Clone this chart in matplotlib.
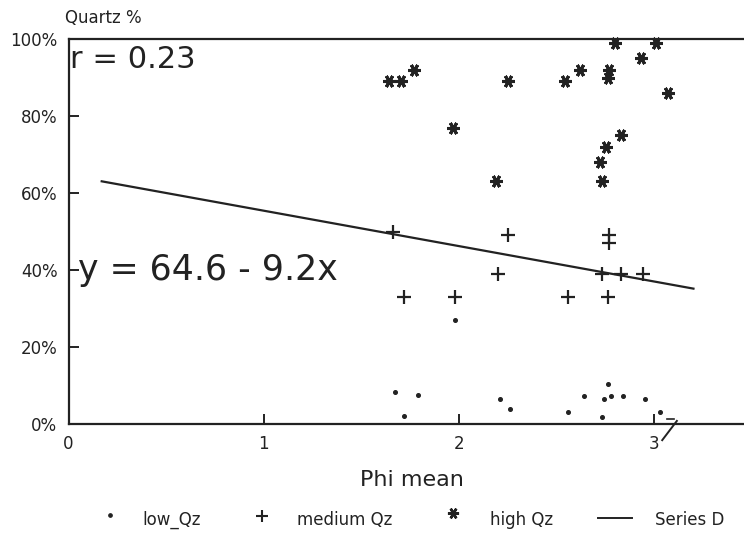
import matplotlib
matplotlib.use("Agg")
import matplotlib.pyplot as plt
import matplotlib.transforms as mtransforms
import numpy as np

# Quartz content against mean grain size (phi), grouped by quartz class
low_phi = [1.98, 1.67, 1.79, 1.72, 2.21, 2.26, 2.56, 2.64, 2.76, 2.74, 2.78, 2.84, 2.73, 2.95, 3.03]
low_qz = [27, 8.4, 7.5, 2.1, 6.5, 3.9, 3.0, 7.4, 10.4, 6.4, 7.4, 7.4, 1.9, 6.4, 3.0]

medium_phi = [1.66, 2.25, 2.77, 2.77, 2.20, 2.73, 2.83, 2.94, 1.72, 1.98, 2.56, 2.76]
medium_qz = [50, 49, 49, 47, 39, 39, 39, 39, 33, 33, 33, 33]

high_phi = [1.64, 1.70, 1.77, 1.97, 2.25, 2.19, 2.54, 2.62, 2.77, 2.76,
            2.80, 2.93, 3.01, 3.07, 2.83, 2.75, 2.72, 2.73]
high_qz = [89, 89, 92, 77, 89, 63, 89, 92, 92, 90,
           99, 95, 99, 86, 75, 72, 68, 63]

# Fitted regression (Series D): y = 64.6 - 9.2x
fit_intercept = 64.6
fit_slope = -9.2
fit_range = [0.17, 3.2]
r_value = 0.23

x_ticks = [0, 1, 2, 3]
y_ticks = [0, 20, 40, 60, 80, 100]
y_ticklabels = ["0%", "20%", "40%", "60%", "80%", "100%"]

ink = "#222222"
plt.rcParams["font.family"] = ["DejaVu Sans"]

W, H = 744, 534
fig = plt.figure(figsize=(W / 100, H / 100), dpi=100, facecolor="white")
ax = fig.add_axes([68.5 / W, 110 / H, (W - 68.5) / W, 385 / H])
ax.set_facecolor("white")

ax.set_xlim(0, (W - 68.5) / 195.3)
ax.set_ylim(0, 100)

for side in ["left", "top", "bottom"]:
    ax.spines[side].set_color(ink)
    ax.spines[side].set_linewidth(1.6)
ax.spines["right"].set_visible(False)

ax.set_xticks(x_ticks)
ax.set_xticklabels([str(t) for t in x_ticks])
ax.set_yticks(y_ticks)
ax.set_yticklabels(y_ticklabels)
ax.tick_params(axis="both", direction="in", length=7, width=1.4, colors=ink,
               labelsize=12, labelcolor=ink)
ax.tick_params(axis="x", pad=8)
ax.tick_params(axis="y", pad=8)

# scatter groups
ax.plot(low_phi, low_qz, linestyle="none", marker="o", markersize=2.6,
        color=ink, clip_on=False)
ax.plot(medium_phi, medium_qz, linestyle="none", marker="+", markersize=9.5,
        markeredgewidth=1.6, color=ink, clip_on=False)
ax.plot(high_phi, high_qz, linestyle="none", marker=(6, 2, 90), markersize=9,
        markeredgewidth=2.2, color=ink, clip_on=False)

# regression line
fx = np.array(fit_range)
ax.plot(fx, fit_intercept + fit_slope * fx, color=ink, linewidth=1.6)

# axis break mark on the x axis
brk = mtransforms.blended_transform_factory(ax.transData, ax.transAxes)
ax.plot([3.04, 3.115], [-0.042, 0.008], transform=brk, color=ink,
        linewidth=1.4, clip_on=False)
ax.plot([3.065, 3.10], [0.012, 0.012], transform=brk, color=ink,
        linewidth=1.2, clip_on=False)

# annotations
ax.text(0.002, 0.985, f"r = {r_value:.2f}", transform=ax.transAxes,
        fontsize=22, color=ink, ha="left", va="top")
ax.text(0.05, 40, f"y = {fit_intercept:.1f} - {abs(fit_slope):.1f}x",
        fontsize=25, color=ink, ha="left", va="center")

fig.text(65 / W, 1 - 18 / H, "Quartz %", fontsize=12, color=ink,
         ha="left", va="center")
fig.text(412 / W, 1 - 480 / H, "Phi mean", fontsize=16, color=ink,
         ha="center", va="center")

# legend row
leg_y = 1 - 520 / H
fig.lines.append(plt.Line2D([110 / W], [1 - 515 / H], marker="o", markersize=2.4,
                            color=ink, linestyle="none", transform=fig.transFigure))
fig.text(142 / W, leg_y, "low_Qz", fontsize=12, color=ink, ha="left", va="center")
fig.lines.append(plt.Line2D([262 / W], [1 - 516 / H], marker="+", markersize=9,
                            markeredgewidth=1.5, color=ink, linestyle="none",
                            transform=fig.transFigure))
fig.text(297 / W, leg_y, "medium Qz", fontsize=12, color=ink, ha="left", va="center")
fig.lines.append(plt.Line2D([453 / W], [1 - 513 / H], marker=(6, 2, 90), markersize=8,
                            markeredgewidth=1.8, color=ink, linestyle="none",
                            transform=fig.transFigure))
fig.text(490 / W, leg_y, "high Qz", fontsize=12, color=ink, ha="left", va="center")
fig.lines.append(plt.Line2D([598 / W, 632 / W], [1 - 518 / H, 1 - 518 / H],
                            color=ink, linewidth=1.4, transform=fig.transFigure))
fig.text(655 / W, leg_y, "Series D", fontsize=12, color=ink, ha="left", va="center")

fig.savefig("out.png", dpi=100, facecolor="white")
